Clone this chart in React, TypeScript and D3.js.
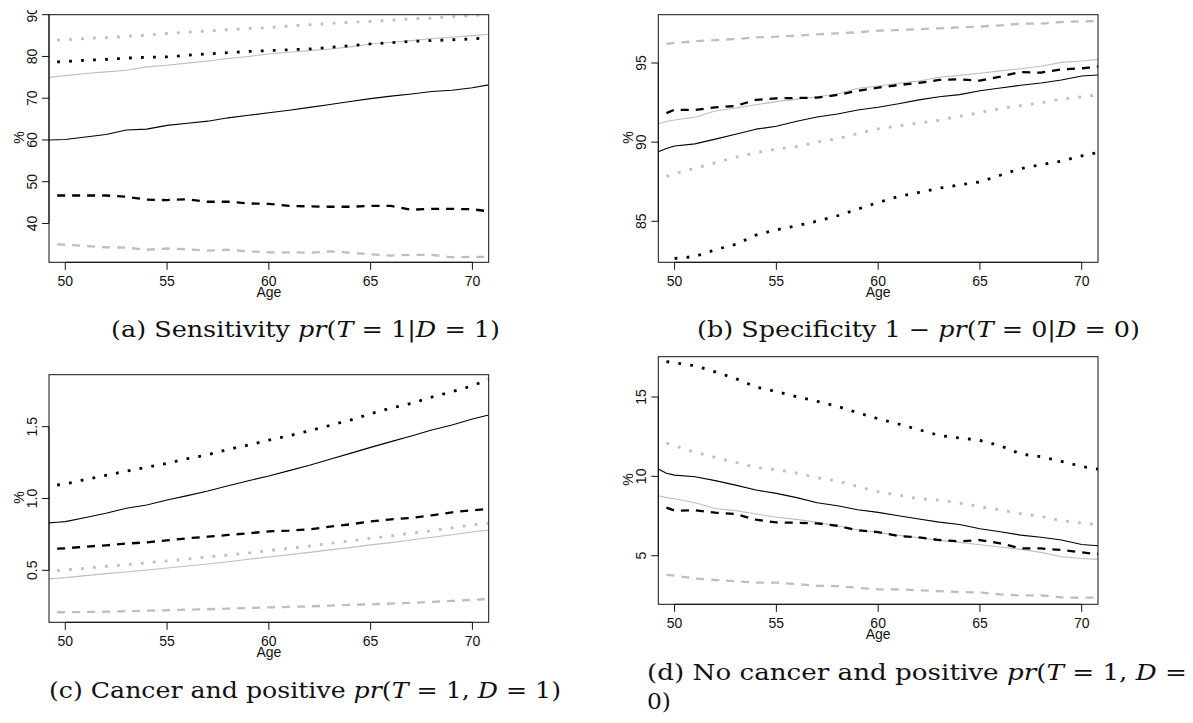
import React from 'react';
import * as d3 from 'd3';

// ages on the x axis (first/last points are the plot edges)
const ages = [49.2, 49.6, 50, 51, 52, 53, 54, 55, 56, 57, 58, 59, 60, 61, 62, 63, 64, 65, 66, 67, 68, 69, 70, 70.8];
const xTicks = [50, 55, 60, 65, 70];

// (a) sensitivity
const sensSolidBlack = [60.0, 60.05, 60.1, 60.7, 61.3, 62.4, 62.6, 63.5, 64.0, 64.5, 65.3, 65.9, 66.5, 67.1, 67.8, 68.5, 69.2, 69.9, 70.5, 71.0, 71.6, 71.9, 72.5, 73.2];
const sensSolidGrey = [75.0, 75.2, 75.4, 75.9, 76.3, 76.7, 77.5, 77.9, 78.4, 78.9, 79.5, 80.0, 80.6, 81.0, 81.4, 81.8, 82.3, 83.0, 83.4, 83.8, 84.3, 84.6, 85.0, 85.3];
const sensDashBlack = [null, 46.7, 46.7, 46.7, 46.7, 46.4, 45.7, 45.6, 45.8, 45.2, 45.2, 44.8, 44.7, 44.2, 44.1, 44.0, 44.0, 44.2, 44.2, 43.3, 43.5, 43.5, 43.4, 42.9];
const sensDashGrey = [null, 35.0, 34.9, 34.6, 34.3, 34.2, 33.7, 34.0, 33.8, 33.5, 33.7, 33.3, 33.1, 33.1, 33.0, 33.3, 33.0, 32.6, 32.3, 32.5, 32.5, 31.9, 32.0, 32.0];
const sensDotBlack = [null, 78.7, 78.8, 79.1, 79.3, 79.6, 79.8, 79.9, 80.3, 80.6, 80.9, 81.2, 81.4, 81.6, 81.8, 82.2, 82.6, 83.0, 83.3, 83.6, 83.8, 84.0, 84.2, 84.5];
const sensDotGrey = [null, 83.9, 84.0, 84.3, 84.5, 84.8, 85.1, 85.5, 85.8, 86.1, 86.4, 86.7, 86.9, 87.3, 87.6, 87.9, 88.2, 88.4, 88.7, 89.0, 89.2, 89.5, 89.8, 90.0];
const sensTicks = [40, 50, 60, 70, 80, 90];
const sensTickLabels = ['40', '50', '60', '70', '80', '90'];

// (b) specificity
const specSolidBlack = [89.4, 89.6, 89.76, 89.89, 90.19, 90.5, 90.82, 91.0, 91.32, 91.59, 91.78, 92.03, 92.2, 92.43, 92.67, 92.87, 93.0, 93.25, 93.42, 93.59, 93.74, 93.93, 94.18, 94.24];
const specSolidGrey = [91.17, 91.3, 91.4, 91.57, 91.97, 92.16, 92.36, 92.56, 92.72, 92.87, 93.04, 93.4, 93.55, 93.72, 93.86, 94.1, 94.22, 94.35, 94.5, 94.64, 94.79, 95.04, 95.13, 95.23];
const specDashBlack = [null, 91.83, 92.05, 92.03, 92.2, 92.29, 92.67, 92.77, 92.79, 92.81, 92.98, 93.25, 93.44, 93.61, 93.74, 93.93, 93.97, 93.88, 94.14, 94.43, 94.39, 94.6, 94.66, 94.77];
const specDashGrey = [null, 96.2, 96.27, 96.37, 96.45, 96.51, 96.62, 96.66, 96.73, 96.81, 96.87, 96.94, 97.04, 97.08, 97.14, 97.19, 97.25, 97.3, 97.38, 97.48, 97.48, 97.59, 97.63, 97.65];
const specDotBlack = [null, null, 82.65, 82.78, 83.2, 83.54, 84.13, 84.46, 84.72, 85.01, 85.35, 85.77, 86.19, 86.57, 86.82, 87.09, 87.3, 87.49, 87.91, 88.33, 88.58, 88.8, 89.13, 89.34];
const specDotGrey = [null, 87.83, 88.0, 88.36, 88.69, 89.05, 89.34, 89.55, 89.72, 90.0, 90.22, 90.54, 90.84, 91.03, 91.2, 91.38, 91.64, 91.86, 92.12, 92.31, 92.48, 92.71, 92.87, 92.98];
const specTicks = [85, 90, 95];
const specTickLabels = ['85', '90', '95'];

// (c) cancer and positive
const cpSolidBlack = [0.83, 0.835, 0.839, 0.868, 0.897, 0.932, 0.955, 0.99, 1.02, 1.052, 1.089, 1.124, 1.157, 1.194, 1.231, 1.273, 1.314, 1.356, 1.396, 1.435, 1.477, 1.512, 1.553, 1.581];
const cpSolidGrey = [0.44, 0.445, 0.449, 0.463, 0.477, 0.488, 0.502, 0.516, 0.53, 0.544, 0.56, 0.577, 0.593, 0.609, 0.625, 0.642, 0.658, 0.677, 0.693, 0.711, 0.73, 0.748, 0.767, 0.781];
const cpDashBlack = [null, 0.651, 0.653, 0.665, 0.674, 0.686, 0.695, 0.709, 0.723, 0.734, 0.746, 0.758, 0.771, 0.776, 0.785, 0.804, 0.82, 0.841, 0.855, 0.864, 0.883, 0.904, 0.918, 0.927];
const cpDashGrey = [null, 0.208, 0.208, 0.21, 0.212, 0.215, 0.219, 0.222, 0.226, 0.229, 0.233, 0.238, 0.242, 0.245, 0.249, 0.254, 0.259, 0.263, 0.268, 0.274, 0.28, 0.287, 0.294, 0.3];
const cpDotBlack = [null, 1.094, 1.101, 1.133, 1.161, 1.191, 1.217, 1.245, 1.277, 1.305, 1.342, 1.372, 1.407, 1.437, 1.472, 1.509, 1.546, 1.59, 1.63, 1.662, 1.706, 1.744, 1.785, 1.829];
const cpDotGrey = [null, 0.498, 0.502, 0.514, 0.528, 0.539, 0.553, 0.565, 0.578, 0.593, 0.607, 0.621, 0.637, 0.653, 0.669, 0.688, 0.704, 0.723, 0.739, 0.758, 0.776, 0.795, 0.816, 0.827];
const cpTicks = [0.5, 1.0, 1.5];
const cpTickLabels = ['0.5', '1.0', '1.5'];

// (d) no cancer and positive
const ncSolidBlack = [10.46, 10.2, 10.08, 9.98, 9.73, 9.45, 9.14, 8.93, 8.66, 8.34, 8.15, 7.9, 7.73, 7.52, 7.31, 7.12, 6.97, 6.7, 6.51, 6.3, 6.16, 5.99, 5.71, 5.63];
const ncSolidGrey = [8.78, 8.66, 8.59, 8.34, 7.98, 7.84, 7.63, 7.42, 7.29, 7.1, 6.87, 6.62, 6.47, 6.28, 6.13, 5.97, 5.84, 5.69, 5.55, 5.4, 5.21, 4.94, 4.83, 4.77];
const ncDashBlack = [null, 8.03, 7.84, 7.86, 7.71, 7.63, 7.27, 7.1, 7.08, 7.04, 6.89, 6.6, 6.49, 6.24, 6.16, 5.99, 5.9, 5.99, 5.78, 5.46, 5.46, 5.36, 5.21, 5.1];
const ncDashGrey = [null, 3.8, 3.74, 3.57, 3.47, 3.4, 3.3, 3.3, 3.21, 3.11, 3.09, 2.98, 2.88, 2.88, 2.82, 2.77, 2.71, 2.69, 2.56, 2.5, 2.5, 2.37, 2.35, 2.37];
const ncDotBlack = [null, 17.23, 17.16, 16.97, 16.58, 16.16, 15.63, 15.34, 15.02, 14.73, 14.41, 14.01, 13.63, 13.3, 12.94, 12.58, 12.42, 12.27, 11.93, 11.41, 11.24, 10.95, 10.63, 10.45];
const ncDotGrey = [null, 12.1, 11.93, 11.53, 11.2, 10.88, 10.57, 10.42, 10.21, 9.92, 9.71, 9.35, 9.03, 8.82, 8.59, 8.51, 8.32, 8.09, 7.88, 7.65, 7.48, 7.21, 7.06, 6.97];
const ncTicks = [5, 10, 15];
const ncTickLabels = ['5', '10', '15'];

const GREY = '#bebebe';
const styles = {
  dashGrey: { stroke: GREY, width: 2.3, dash: '8 7' },
  dotGrey: { stroke: GREY, width: 2.8, dash: '2.8 9.2' },
  solidGrey: { stroke: GREY, width: 1.1, dash: null },
  solidBlack: { stroke: '#000', width: 1.1, dash: null },
  dashBlack: { stroke: '#000', width: 2.3, dash: '8 7' },
  dotBlack: { stroke: '#000', width: 2.8, dash: '2.8 9.2' },
};

const panels = [
  {
    id: 'a', left: 49, top: 14.7, yDomain: [30.7, 90], ticks: sensTicks, tickLabels: sensTickLabels,
    series: { dashGrey: sensDashGrey, dotGrey: sensDotGrey, solidGrey: sensSolidGrey, solidBlack: sensSolidBlack, dashBlack: sensDashBlack, dotBlack: sensDotBlack },
  },
  {
    id: 'b', left: 658.3, top: 14.7, yDomain: [82.41, 98.05], ticks: specTicks, tickLabels: specTickLabels,
    series: { dashGrey: specDashGrey, dotGrey: specDotGrey, solidGrey: specSolidGrey, solidBlack: specSolidBlack, dashBlack: specDashBlack, dotBlack: specDotBlack },
  },
  {
    id: 'c', left: 49, top: 374.7, yDomain: [0.138, 1.862], ticks: cpTicks, tickLabels: cpTickLabels,
    series: { dashGrey: cpDashGrey, dotGrey: cpDotGrey, solidGrey: cpSolidGrey, solidBlack: cpSolidBlack, dashBlack: cpDashBlack, dotBlack: cpDotBlack },
  },
  {
    id: 'd', left: 658.3, top: 356.7, yDomain: [1.94, 17.54], ticks: ncTicks, tickLabels: ncTickLabels,
    series: { dashGrey: ncDashGrey, dotGrey: ncDotGrey, solidGrey: ncSolidGrey, solidBlack: ncSolidBlack, dashBlack: ncDashBlack, dotBlack: ncDotBlack },
  },
];

const PW = 439.7;
const PH = 247.6;
const axisFont = "'Liberation Sans', Arial, Helvetica, sans-serif";
const capFont = "'DejaVu Serif', 'Liberation Serif', serif";

const Panel = ({ p }) => {
  const x = d3.scaleLinear().domain([49.2, 70.8]).range([p.left, p.left + PW]);
  const y = d3.scaleLinear().domain(p.yDomain).range([p.top + PH, p.top]);
  const bottom = p.top + PH;

  const pathFor = (vals) =>
    d3.line()
      .defined((d, i) => vals[i] != null)
      .x((d, i) => x(ages[i]))
      .y((d, i) => y(vals[i]))(vals);

  return (
    <g clipPath={`url(#fig-${p.id})`}>
      <defs>
        <clipPath id={`plot-${p.id}`}>
          <rect x={p.left} y={p.top} width={PW} height={PH} />
        </clipPath>
        <clipPath id={`fig-${p.id}`}>
          <rect x={p.left - 49} y={p.top - 4.7} width={PW + 60} height={PH + 60} />
        </clipPath>
      </defs>

      <g clipPath={`url(#plot-${p.id})`} fill="none">
        {Object.keys(p.series).map((k) => (
          <path
            key={k}
            d={pathFor(p.series[k])}
            stroke={styles[k].stroke}
            strokeWidth={styles[k].width}
            strokeDasharray={styles[k].dash || undefined}
            strokeLinejoin="round"
          />
        ))}
      </g>

      <rect x={p.left} y={p.top} width={PW} height={PH} fill="none" stroke="#111" strokeWidth={1} />

      {/* x axis */}
      <g fontFamily={axisFont} fontSize={14} fill="#111">
        <line x1={x(xTicks[0])} x2={x(xTicks[xTicks.length - 1])} y1={bottom} y2={bottom} stroke="#111" />
        {xTicks.map((t) => (
          <g key={t}>
            <line x1={x(t)} x2={x(t)} y1={bottom} y2={bottom + 7.5} stroke="#111" />
            <text x={x(t)} y={bottom + 23.3} textAnchor="middle">{t}</text>
          </g>
        ))}
        <text x={p.left + PW / 2} y={bottom + 35} textAnchor="middle">Age</text>
      </g>

      {/* y axis */}
      <g fontFamily={axisFont} fontSize={14} fill="#111">
        <line x1={p.left} x2={p.left} y1={y(p.ticks[0])} y2={y(p.ticks[p.ticks.length - 1])} stroke="#111" />
        {p.ticks.map((t, i) => (
          <g key={t}>
            <line x1={p.left - 7} x2={p.left} y1={y(t)} y2={y(t)} stroke="#111" />
            <text transform={`translate(${p.left - 12.5},${y(t)}) rotate(-90)`} textAnchor="middle">
              {p.tickLabels[i]}
            </text>
          </g>
        ))}
        <text transform={`translate(${p.left - 25},${p.top + PH / 2 - 1}) rotate(-90)`} textAnchor="middle">%</text>
      </g>
    </g>
  );
};

const Caption = ({ x, y, len, parts }) => (
  <text
    x={x}
    y={y}
    textLength={len}
    lengthAdjust="spacingAndGlyphs"
    fontFamily={capFont}
    fontSize={22}
    fill="#111"
    style={{ whiteSpace: 'pre' }}
  >
    {parts.map((s, i) => (
      <tspan key={i} fontStyle={s.i ? 'italic' : 'normal'}>{s.t}</tspan>
    ))}
  </text>
);

export default function App() {
  return (
    <svg
      width={1193}
      height={723}
      style={{ position: 'absolute', left: 0, top: 0, background: '#fff' }}
    >
      {panels.map((p) => <Panel key={p.id} p={p} />)}

      <Caption x={111} y={337} len={389} parts={[
        { t: '(a) Sensitivity ' }, { t: 'pr', i: true }, { t: '(' }, { t: 'T', i: true },
        { t: ' = 1|' }, { t: 'D', i: true }, { t: ' = 1)' },
      ]} />
      <Caption x={697} y={337} len={443} parts={[
        { t: '(b) Specificity 1 \u2212 ' }, { t: 'pr', i: true }, { t: '(' }, { t: 'T', i: true },
        { t: ' = 0|' }, { t: 'D', i: true }, { t: ' = 0)' },
      ]} />
      <Caption x={49} y={698} len={512} parts={[
        { t: '(c) Cancer and positive ' }, { t: 'pr', i: true }, { t: '(' }, { t: 'T', i: true },
        { t: ' = 1, ' }, { t: 'D', i: true }, { t: ' = 1)' },
      ]} />
      <Caption x={647} y={680} len={540} parts={[
        { t: '(d) No cancer and positive ' }, { t: 'pr', i: true }, { t: '(' }, { t: 'T', i: true },
        { t: ' = 1, ' }, { t: 'D', i: true }, { t: ' =' },
      ]} />
      <Caption x={647} y={709} len={24} parts={[{ t: '0)' }]} />
    </svg>
  );
}
